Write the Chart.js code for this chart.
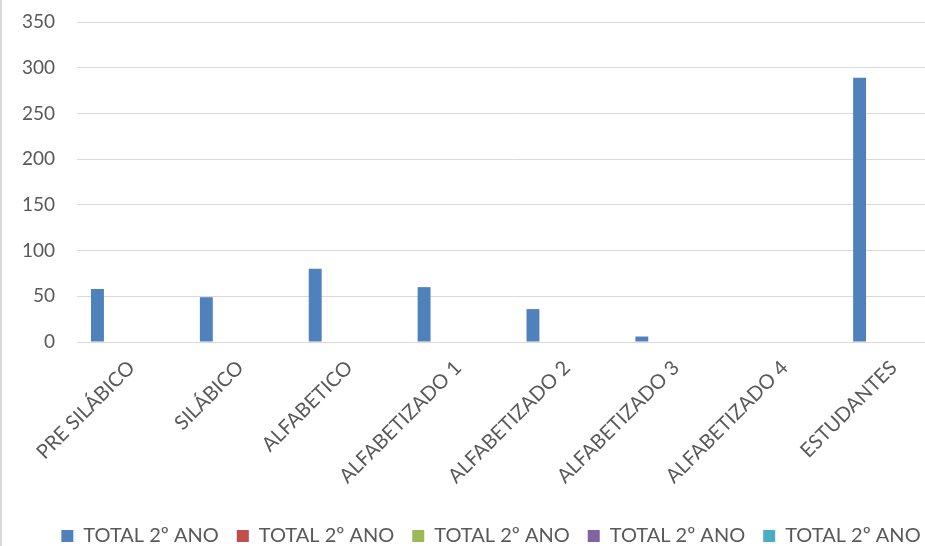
<!DOCTYPE html>
<html>
<head>
<meta charset="utf-8">
<script src="https://cdn.jsdelivr.net/npm/chart.js@4.4.1/dist/chart.umd.min.js"></script>
<style>
  html, body { margin: 0; padding: 0; background: #fff; overflow: hidden; }
  #wrap { position: relative; width: 960px; height: 546px; }
</style>
</head>
<body>
<div id="wrap"><canvas id="reportChart" width="960" height="546"></canvas></div>
<script>
var categories = ['PRE SILÁBICO', 'SILÁBICO', 'ALFABETICO', 'ALFABETIZADO 1', 'ALFABETIZADO 2', 'ALFABETIZADO 3', 'ALFABETIZADO 4', 'ESTUDANTES'];
var seriesNames = ['TOTAL 2º ANO', 'TOTAL 2º ANO', 'TOTAL 2º ANO', 'TOTAL 2º ANO', 'TOTAL 2º ANO'];
var serie1 = [58, 49, 80, 60, 36, 6, 0, 289];
var serie2 = [0, 0, 0, 0, 0, 0, 0, 0];
var serie3 = [0, 0, 0, 0, 0, 0, 0, 0];
var serie4 = [0, 0, 0, 0, 0, 0, 0, 0];
var serie5 = [0, 0, 0, 0, 0, 0, 0, 0];
var colors = ['#4f81bd', '#c0504d', '#9bbb59', '#8064a2', '#4bacc6'];
var yTicks = [0, 50, 100, 150, 200, 250, 300, 350];

var fontName = 'Lato, "Open Sans", sans-serif';
var textColor = '#595959';

// left edge of chart frame
var frameLine = {
    id: 'frameLine',
    beforeDraw: function(chart) {
        var ctx = chart.ctx;
        ctx.save();
        ctx.strokeStyle = '#d9d9d9';
        ctx.lineWidth = 2;
        ctx.beginPath();
        ctx.moveTo(1, 0);
        ctx.lineTo(1, chart.height);
        ctx.stroke();
        ctx.restore();
    }
};

// move legend where excel puts it
var legendShift = {
    id: 'legendShift',
    afterLayout: function(chart) {
        var lg = chart.legend;
        lg.top += 10;
        lg.bottom += 10;
        lg.left += 12;
        lg.right += 12;
    }
};

var allSeries = [serie1, serie2, serie3, serie4, serie5];
var datasets = allSeries.map(function(values, i) {
    return {
        label: seriesNames[i],
        data: values,
        backgroundColor: colors[i],
        borderWidth: 0,
        categoryPercentage: 0.78,
        barPercentage: 0.76
    };
});

new Chart(document.getElementById('reportChart'), {
    type: 'bar',
    data: { labels: categories, datasets: datasets },
    plugins: [frameLine, legendShift],
    options: {
        responsive: false,
        animation: false,
        layout: { padding: { left: 10, right: 12, top: 0, bottom: 0 } },
        plugins: {
            title: { display: false },
            tooltip: { enabled: false },
            legend: {
                position: 'bottom',
                labels: {
                    boxWidth: 12,
                    boxHeight: 12,
                    padding: 18,
                    color: textColor,
                    font: { family: fontName, size: 20 }
                }
            }
        },
        scales: {
            x: {
                grid: { display: false, drawTicks: false },
                border: { display: true, color: '#d9d9d9', width: 1 },
                afterFit: function(s) { s.height = 156; },
                ticks: {
                    autoSkip: false,
                    minRotation: 45,
                    maxRotation: 45,
                    padding: 14,
                    color: textColor,
                    font: { family: fontName, size: 20 }
                }
            },
            y: {
                min: 0,
                max: 350,
                afterFit: function(s) {
                    s.width = 67;
                    s.paddingTop = 22;
                },
                afterBuildTicks: function(s) {
                    s.ticks = yTicks.map(function(v) { return { value: v }; });
                },
                grid: { color: '#d9d9d9', lineWidth: 1, drawTicks: false },
                border: { display: false },
                ticks: {
                    padding: 22,
                    color: textColor,
                    font: { family: fontName, size: 19 }
                }
            }
        }
    }
});
</script>
</body>
</html>
